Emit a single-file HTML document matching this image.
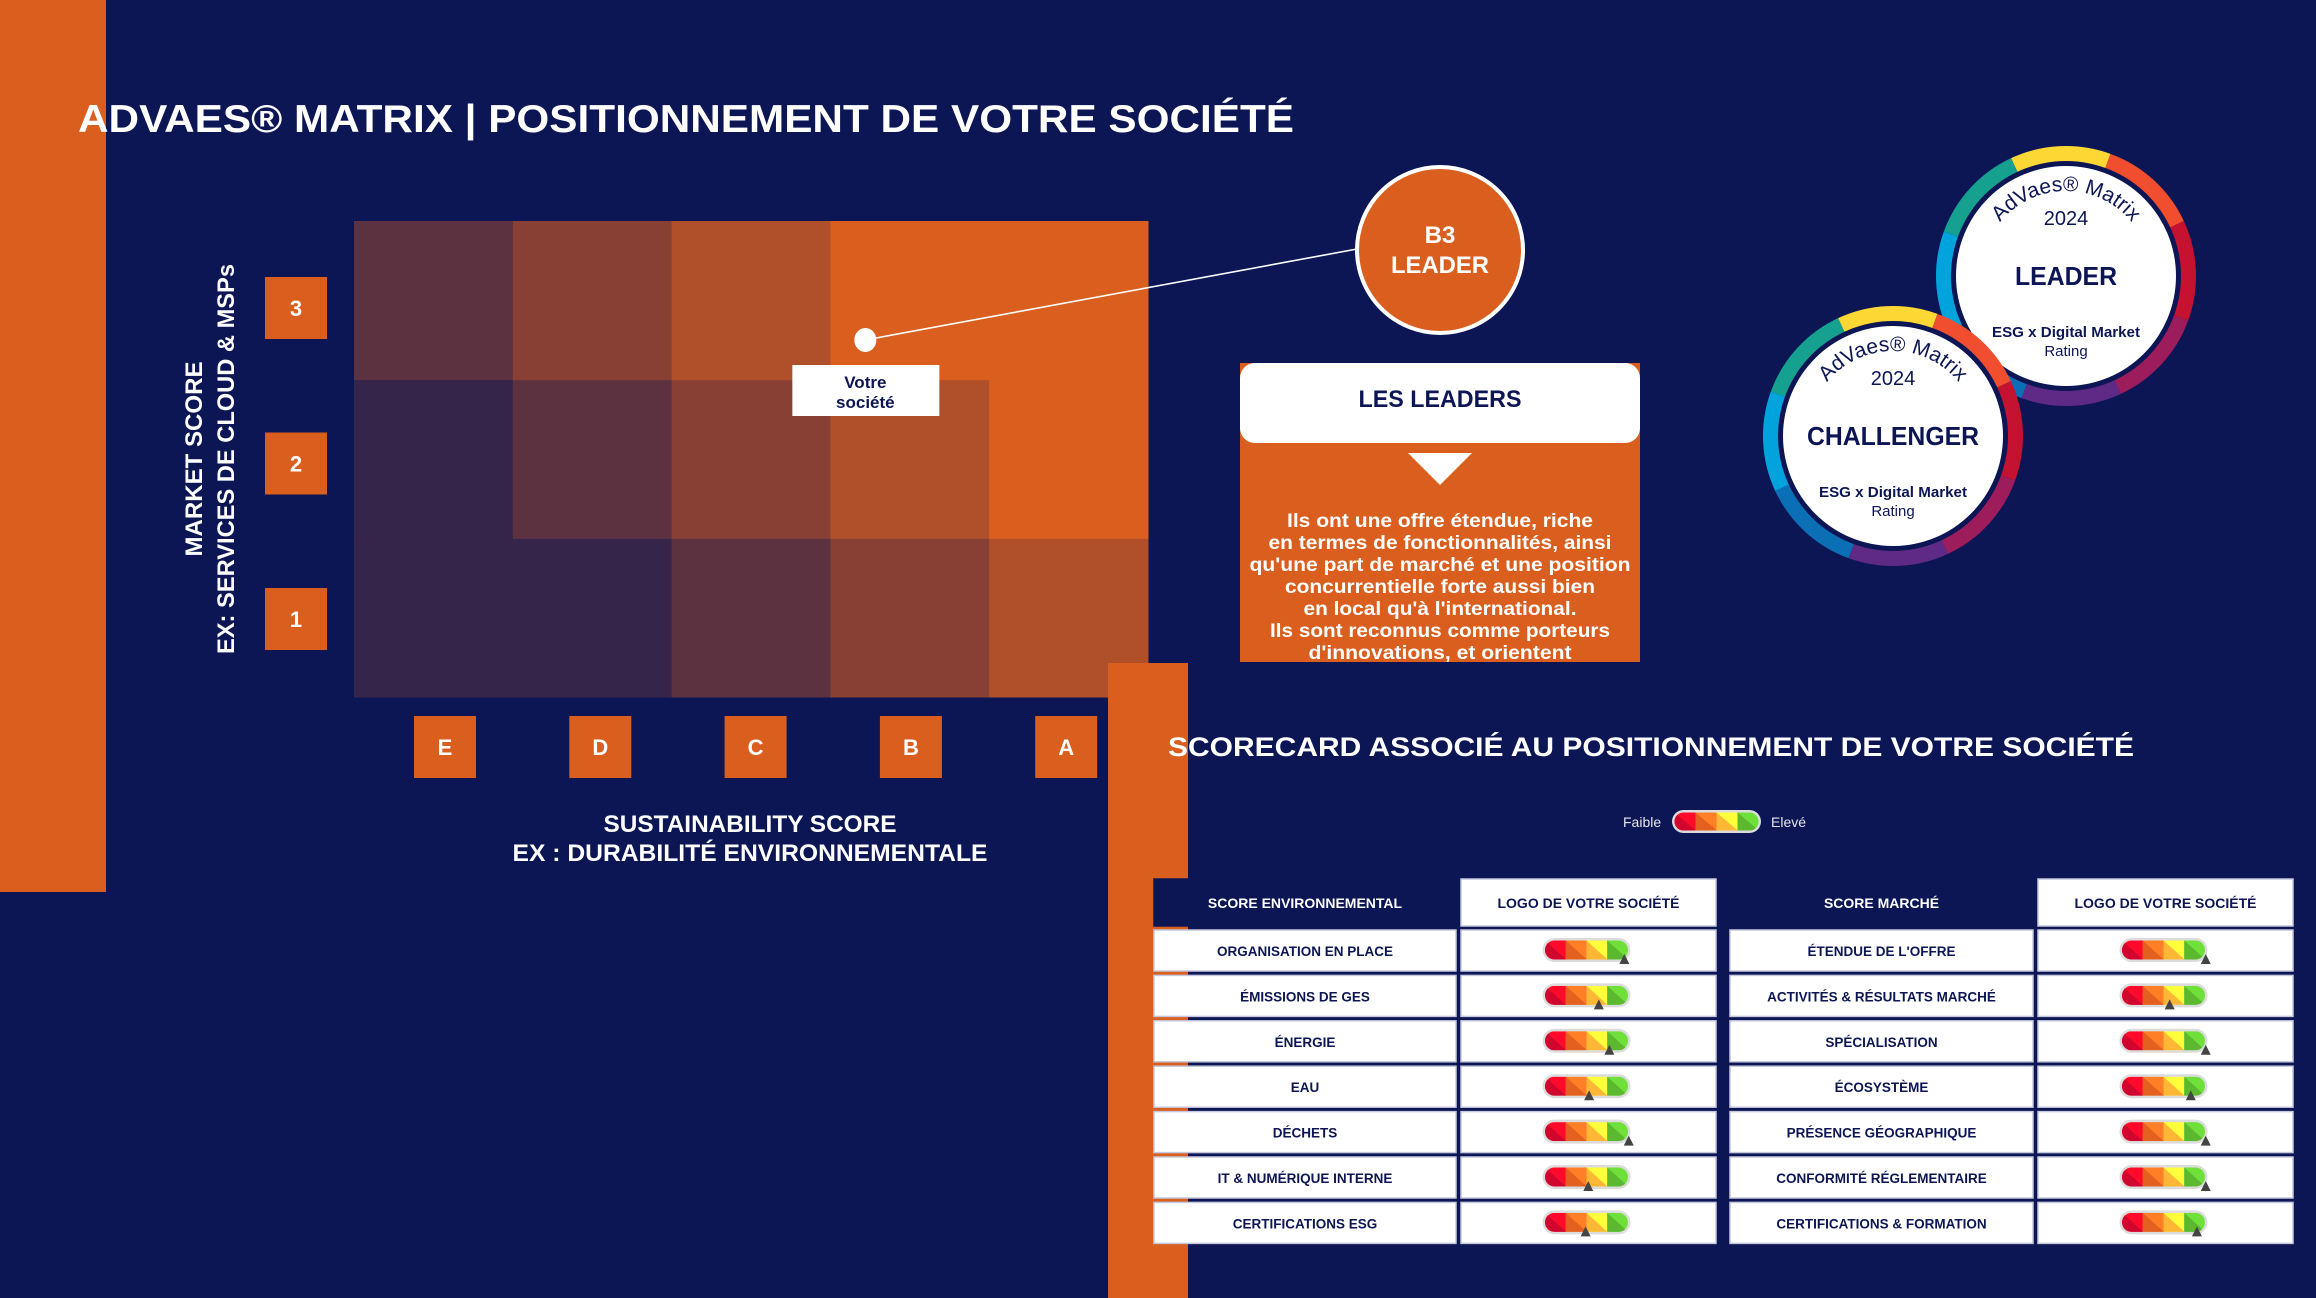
<!DOCTYPE html>
<html><head><meta charset="utf-8"><style>
html,body{margin:0;padding:0;background:#0c1654;}
svg{display:block;font-family:"Liberation Sans",sans-serif;}
</style></head><body>
<svg id="s" width="2316" height="1298" viewBox="0 0 2316 1298" xmlns="http://www.w3.org/2000/svg">
<defs>
<clipPath id="panelClip"><rect x="1240" y="363" width="400" height="299"/></clipPath>
</defs>
<rect x="0" y="0" width="2316" height="1298" fill="#0c1654"/>
<rect x="0" y="0" width="106" height="892" fill="#da5f1f"/>
<text x="78" y="132" font-size="39" font-weight="bold" fill="#fff" textLength="1216" lengthAdjust="spacingAndGlyphs">ADVAES® MATRIX | POSITIONNEMENT DE VOTRE SOCIÉTÉ</text>
<g id="heat"></g>
<g id="axes"></g>
<text transform="translate(202,459) rotate(-90)" text-anchor="middle" font-size="24" font-weight="bold" fill="#fff" textLength="195" lengthAdjust="spacingAndGlyphs">MARKET SCORE</text>
<text transform="translate(234,459) rotate(-90)" text-anchor="middle" font-size="24" font-weight="bold" fill="#fff" textLength="390" lengthAdjust="spacingAndGlyphs">EX: SERVICES DE CLOUD &amp; MSPs</text>
<text x="750" y="832" text-anchor="middle" font-size="24" font-weight="bold" fill="#fff" textLength="293" lengthAdjust="spacingAndGlyphs">SUSTAINABILITY SCORE</text>
<text x="750" y="861" text-anchor="middle" font-size="24" font-weight="bold" fill="#fff" textLength="475" lengthAdjust="spacingAndGlyphs">EX : DURABILITÉ ENVIRONNEMENTALE</text>
<g id="marker"></g>
<g>
<circle cx="1440" cy="250" r="83" fill="#da5f1f" stroke="#fff" stroke-width="4"/>
<text x="1440" y="243" text-anchor="middle" font-size="24" font-weight="bold" fill="#fff">B3</text>
<text x="1440" y="273" text-anchor="middle" font-size="24" font-weight="bold" fill="#fff" textLength="98" lengthAdjust="spacingAndGlyphs">LEADER</text>
</g>
<g>
<rect x="1240" y="363" width="400" height="299" fill="#da5f1f"/>
<rect x="1240" y="363" width="400" height="80" rx="15" fill="#fff"/>
<text x="1440" y="407" text-anchor="middle" font-size="24" font-weight="bold" fill="#0c1654" textLength="163" lengthAdjust="spacingAndGlyphs">LES LEADERS</text>
<polygon points="1408,453 1472,453 1440,485" fill="#fff"/>
<g clip-path="url(#panelClip)" font-size="19" font-weight="bold" fill="#fff" text-anchor="middle">
<text x="1440" y="527" textLength="306" lengthAdjust="spacingAndGlyphs">Ils ont une offre étendue, riche</text>
<text x="1440" y="549" textLength="343" lengthAdjust="spacingAndGlyphs">en termes de fonctionnalités, ainsi</text>
<text x="1440" y="571" textLength="381" lengthAdjust="spacingAndGlyphs">qu'une part de marché et une position</text>
<text x="1440" y="593" textLength="310" lengthAdjust="spacingAndGlyphs">concurrentielle forte aussi bien</text>
<text x="1440" y="615" textLength="273" lengthAdjust="spacingAndGlyphs">en local qu'à l'international.</text>
<text x="1440" y="637" textLength="340" lengthAdjust="spacingAndGlyphs">Ils sont reconnus comme porteurs</text>
<text x="1440" y="659" textLength="263" lengthAdjust="spacingAndGlyphs">d'innovations, et orientent</text>
</g>
</g>
<g id="badges"></g>
<rect x="1108" y="663" width="80" height="635" fill="#da5f1f"/>
<text x="1168" y="756" font-size="27" font-weight="bold" fill="#fff" textLength="966" lengthAdjust="spacingAndGlyphs">SCORECARD ASSOCIÉ AU POSITIONNEMENT DE VOTRE SOCIÉTÉ</text>
<g id="legend">
<text x="1623" y="827" font-size="14" fill="#e6e6ee">Faible</text>
<text x="1771" y="827" font-size="14" fill="#e6e6ee">Elevé</text>
</g>
<g id="table"></g>
</svg>
<script>
// ---- data ----
const xCategories = ["E","D","C","B","A"];
const yCategories = ["1","2","3"];
const heatRow1 = [0,0,1,2,3];
const heatRow2 = [0,1,2,3,4];
const heatRow3 = [1,2,3,4,4];
const companySustainability = 3.22;
const companyMarket = 2.25;
const envItems = ["ORGANISATION EN PLACE","ÉMISSIONS DE GES","ÉNERGIE","EAU","DÉCHETS","IT & NUMÉRIQUE INTERNE","CERTIFICATIONS ESG"];
const envScores = [0.93,0.64,0.76,0.53,0.98,0.52,0.49];
const mktItems = ["ÉTENDUE DE L'OFFRE","ACTIVITÉS & RÉSULTATS MARCHÉ","SPÉCIALISATION","ÉCOSYSTÈME","PRÉSENCE GÉOGRAPHIQUE","CONFORMITÉ RÉGLEMENTAIRE","CERTIFICATIONS & FORMATION"];
const mktScores = [0.98,0.57,0.98,0.81,0.98,0.98,0.88];

const NS="http://www.w3.org/2000/svg";
function mk(tag, attrs, parent){const e=document.createElementNS(NS,tag);for(const k in attrs)e.setAttribute(k,attrs[k]);parent.appendChild(e);return e;}
const heatColors=["#36254a","#5c3240","#884035","#b0502b","#da5f1f"];
const X0=354,X1=1148,Y0=221,Y1=697;
const cw=(X1-X0)/xCategories.length, ch=(Y1-Y0)/yCategories.length;
const xScale=v=>X0+v*cw;
const yScale=v=>Y1-v*ch;

// heatmap
const heat=document.getElementById('heat');
const rows=[heatRow1,heatRow2,heatRow3];
rows.forEach((row,ri)=>{row.forEach((lv,ci)=>{
  const r=mk('rect',{x:xScale(ci),y:yScale(ri+1),width:cw+0.5,height:ch+0.5,fill:heatColors[lv]},heat);
  
  
});});

// axes labels
const axes=document.getElementById('axes');
const tickStep=155.3;
xCategories.forEach((c,i)=>{
  const cx=445+i*tickStep;
  const g=mk('g',{},axes);
  
  
  mk('rect',{x:cx-31,y:716,width:62,height:62,fill:"#da5f1f"},g);
  const t=mk('text',{x:cx,y:755,'text-anchor':'middle','font-size':22,'font-weight':'bold',fill:'#fff'},g);t.textContent=c;
});
yCategories.forEach((c,i)=>{
  const g=mk('g',{},axes);
  
  
  const top=588-i*155.5;
  mk('rect',{x:265,y:top,width:62,height:62,fill:"#da5f1f"},g);
  const t=mk('text',{x:296,y:top+39,'text-anchor':'middle','font-size':22,'font-weight':'bold',fill:'#fff'},g);t.textContent=c;
});

// marker
const marker=document.getElementById('marker');
const mx=xScale(companySustainability), my=yScale(companyMarket);
const ln=mk('line',{x1:mx,y1:my,x2:1357,y2:249,stroke:'#fff','stroke-width':1.6},marker);


const dot=mk('ellipse',{cx:mx,cy:my,rx:11,ry:12,fill:'#fff'},marker);


const lb=mk('g',{},marker);


mk('rect',{x:mx-73,y:my+25,width:147,height:51,fill:'#fff'},lb);
const t1=mk('text',{x:mx,y:my+48,'text-anchor':'middle','font-size':17,'font-weight':'bold',fill:'#0c1654'},lb);t1.textContent="Votre";
const t2=mk('text',{x:mx,y:my+68,'text-anchor':'middle','font-size':17,'font-weight':'bold',fill:'#0c1654'},lb);t2.textContent="société";

// badges
const badges=document.getElementById('badges');
const ringColors=["#fdd835","#f04e2e","#c41230","#9c1c5c","#5f2a85","#0a6fb5","#00a3dc","#15a090"];
function pt(cx,cy,r,a){const rad=(a-90)*Math.PI/180;return [cx+r*Math.cos(rad),cy+r*Math.sin(rad)];}
function badge(cx,cy,title,titleLen,name){
  const g=mk('g',{},badges);
  
  
  const ro=130,ri=114;
  ringColors.forEach((c,i)=>{
    const a0=-25+i*45,a1=a0+45;
    const p0=pt(cx,cy,ro,a0),p1=pt(cx,cy,ro,a1),p2=pt(cx,cy,ri,a1),p3=pt(cx,cy,ri,a0);
    mk('path',{d:`M${p0} A${ro} ${ro} 0 0 1 ${p1} L${p2} A${ri} ${ri} 0 0 0 ${p3} Z`,fill:c},g);
  });
  mk('circle',{cx:cx,cy:cy,r:115,fill:'#0c1654'},g);
  mk('circle',{cx:cx,cy:cy,r:110,fill:'#fff'},g);
  const id='arc'+name;
  mk('path',{id:id,d:`M${cx-85},${cy} A85 85 0 0 1 ${cx+85},${cy}`,fill:'none'},g);
  const at=mk('text',{'font-size':21,fill:'#0c1654','text-anchor':'middle'},g);
  const tp=mk('textPath',{href:'#'+id,startOffset:'50%'},at);tp.textContent="AdVaes® Matrix";
  const y=mk('text',{x:cx,y:cy-51,'text-anchor':'middle','font-size':20,fill:'#0c1654'},g);y.textContent="2024";
  const tt=mk('text',{x:cx,y:cy+9,'text-anchor':'middle','font-size':26,'font-weight':'bold',fill:'#0c1654',textLength:titleLen,lengthAdjust:'spacingAndGlyphs'},g);tt.textContent=title;
  const e=mk('text',{x:cx,y:cy+61,'text-anchor':'middle','font-size':15,'font-weight':'bold',fill:'#0c1654',textLength:148,lengthAdjust:'spacingAndGlyphs'},g);e.textContent="ESG x Digital Market";
  const r=mk('text',{x:cx,y:cy+80,'text-anchor':'middle','font-size':15,fill:'#0c1654'},g);r.textContent="Rating";
}
badge(2066,276,"LEADER",102,"leader-badge");
badge(1893,436,"CHALLENGER",172,"challenger-badge");

// gauge
const segs=[["#ff0a2a","#d0062e"],["#ff7f27","#e4601e"],["#ffff3c","#ffb735"],["#6fe03a","#5cb82e"]];
let gid=0;
function gauge(parent,x,y,w,h,score){
  const g=mk('g',{},parent);
  mk('rect',{x:x,y:y,width:w,height:h,rx:h/2,fill:'#dcdcdc'},g);
  const cid='gc'+(gid++);
  const cp=mk('clipPath',{id:cid},g);
  mk('rect',{x:x+2.5,y:y+2.5,width:w-5,height:h-5,rx:(h-5)/2},cp);
  const s=mk('g',{'clip-path':`url(#${cid})`},g);
  const sw=(w-5)/4,y0=y+2.5,y1=y+h-2.5;
  segs.forEach((c,i)=>{
    const x0=x+2.5+i*sw,x1=x0+sw+0.3;
    mk('rect',{x:x0,y:y0,width:sw+0.3,height:h-5,fill:c[0]},s);
    mk('polygon',{points:`${x0},${y0} ${x1},${y1} ${x0},${y1}`,fill:c[1]},s);
  });
  if(score!==null){
    const px=x+score*w;
    const p=mk('polygon',{points:`${px},${y+h/2+4} ${px-5},${y+h+2} ${px+5},${y+h+2}`,fill:'#444'},g);
    
    
  }
  return g;
}
const lg=gauge(document.getElementById('legend'),1672,810,89,23,null);



// table
const table=document.getElementById('table');
const cols=[[1154,1456],[1461,1716],[1730,2033],[2038,2293]];
function cellText(g,x,y,txt,col,fs){const t=mk('text',{x:x,y:y,'text-anchor':'middle','font-size':fs,'font-weight':'bold',fill:col},g);t.textContent=txt;return t;}
const hdrs=["SCORE ENVIRONNEMENTAL","LOGO DE VOTRE SOCIÉTÉ","SCORE MARCHÉ","LOGO DE VOTRE SOCIÉTÉ"];
hdrs.forEach((h,i)=>{
  const g=mk('g',{},table);
  
  
  const [a,b]=cols[i];
  const navy=(i%2===0);
  mk('rect',{x:a,y:879,width:b-a,height:47,fill:navy?'#0c1654':'#fff',stroke:navy?'#0c1654':'#c5c8dc','stroke-width':1.5},g);
  cellText(g,(a+b)/2,908,h,navy?'#fff':'#0c1654',14);
});
function rowsFor(items,scores,c0,c1,prefix){
  items.forEach((it,i)=>{
    const top=930+i*45.4;
    const g=mk('g',{},table);
    
    
    mk('rect',{x:c0[0],y:top,width:c0[1]-c0[0],height:41,fill:'#fff',stroke:'#c5c8dc','stroke-width':1.5},g);
    cellText(g,(c0[0]+c0[1])/2,top+26,it,'#0c1654',13.5);
    mk('rect',{x:c1[0],y:top,width:c1[1]-c1[0],height:41,fill:'#fff',stroke:'#c5c8dc','stroke-width':1.5},g);
    const gw=88,gx=(c1[0]+c1[1])/2-gw/2-2;
    const gg=gauge(g,gx,top+8,gw,24,scores[i]);
    
    
  });
}
rowsFor(envItems,envScores,cols[0],cols[1],'env');
rowsFor(mktItems,mktScores,cols[2],cols[3],'market');
</script>
</body></html>
